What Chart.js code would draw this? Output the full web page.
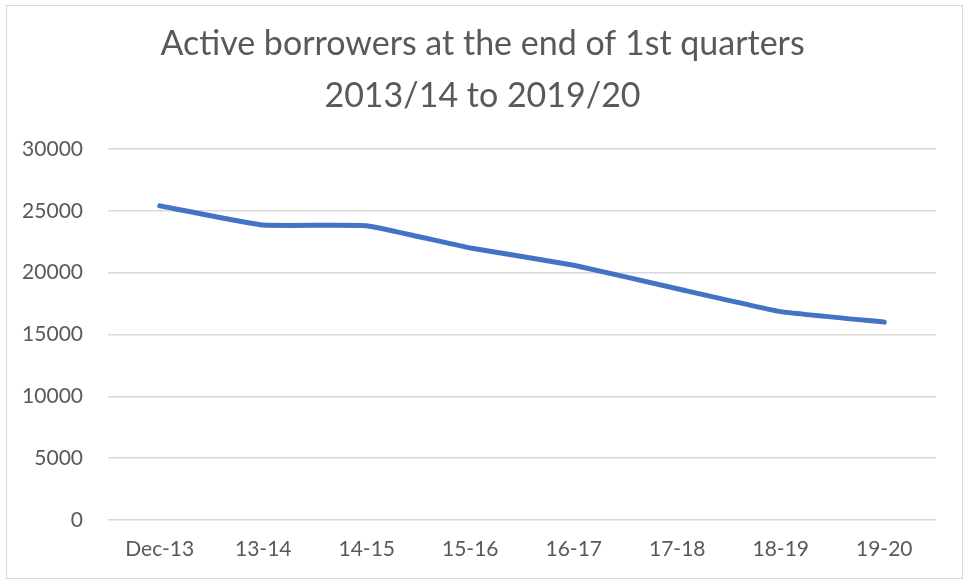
<!DOCTYPE html>
<html>
<head>
<meta charset="utf-8">
<script src="https://cdn.jsdelivr.net/npm/chart.js@4"></script>
<style>
    html, body { margin: 0; padding: 0; background: #fff; }
    #wrap { position: relative; width: 965px; height: 581px; }
    #frame {
        position: absolute; left: 6px; top: 5px; width: 955px; height: 572px;
        border: 1.5px solid #d9d9d9; pointer-events: none;
    }
</style>
</head>
<body>
<div id="wrap">
    <canvas id="borrowersChart" width="965" height="581"></canvas>
    <div id="frame"></div>
</div>
<script>
// Quarter-end labels and active borrower counts
const quarterLabels = ['Dec-13', '13-14', '14-15', '15-16', '16-17', '17-18', '18-19', '19-20'];
const activeBorrowers = [25400, 23850, 23800, 22000, 20600, 18700, 16850, 16000];
const chartTitle = ['Active borrowers at the end of 1st quarters', '2013/14 to 2019/20'];

const textColor = '#595959';
const gridColor = '#d9d9d9';

Chart.defaults.font.family = "Lato, 'Open Sans', sans-serif";
Chart.defaults.color = textColor;

const ctx = document.getElementById('borrowersChart').getContext('2d');
new Chart(ctx, {
    type: 'line',
    data: {
        labels: quarterLabels,
        datasets: [{
            label: 'Active borrowers',
            data: activeBorrowers,
            borderColor: '#4472C4',
            backgroundColor: '#4472C4',
            borderWidth: 5,
            borderCapStyle: 'round',
            borderJoinStyle: 'round',
            pointRadius: 0,
            tension: 0.1,
            fill: false
        }]
    },
    options: {
        responsive: false,
        animation: false,
        layout: { padding: 0 },
        scales: {
            x: {
                offset: true,
                grid: { display: false, drawTicks: false },
                border: { display: false },
                ticks: { font: { size: 21 }, color: textColor, padding: 17, maxRotation: 0, autoSkip: false },
                afterFit: s => { s.height = 61; }
            },
            y: {
                min: 0,
                max: 30000,
                grid: { color: gridColor, lineWidth: 1.5, drawTicks: false },
                border: { display: false },
                ticks: {
                    stepSize: 5000,
                    font: { size: 21 },
                    color: textColor,
                    padding: 25,
                    callback: v => String(v)
                },
                afterFit: s => { s.width = 108; }
            },
            // empty right-hand strip so the plot stops short of the frame
            yRight: {
                position: 'right',
                grid: { display: false, drawTicks: false },
                border: { display: false },
                ticks: { display: false },
                afterFit: s => { s.width = 29; }
            }
        },
        plugins: {
            legend: { display: false },
            tooltip: { enabled: false },
            title: {
                display: true,
                text: chartTitle,
                color: textColor,
                font: { size: 34, weight: 'normal', lineHeight: 52 / 34 },
                padding: { top: 18, bottom: 27 }
            }
        }
    }
});
</script>
</body>
</html>
